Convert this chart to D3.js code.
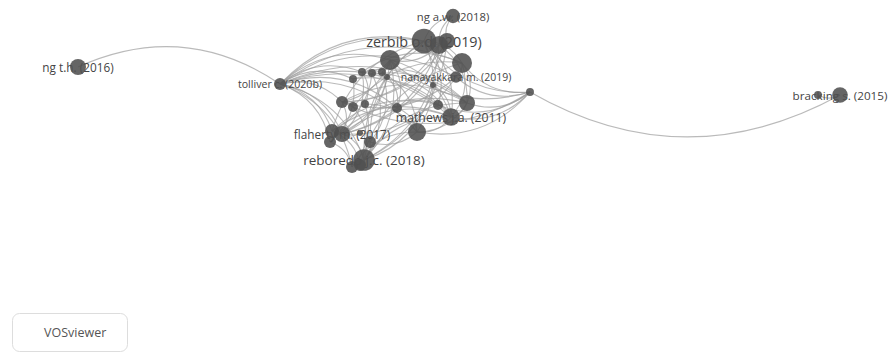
<!DOCTYPE html>
<html>
<head>
<meta charset="utf-8">
<script src="https://cdn.jsdelivr.net/npm/d3@7"></script>
<style>
  html, body { margin: 0; padding: 0; background: #fff; }
  svg { display: block; }
</style>
</head>
<body>
<svg id="net" width="889" height="353"></svg>
<script>
// Citation network of documents (layout coordinates, weights = citations)
const nodeLabels = [
  "ng t.h. (2016)", "tolliver c. (2020b)", "zerbib o.d. (2019)", "", "", "ng a.w. (2018)",
  "", "", "nanayakkara m. (2019)", "", "", "", "", "", "", "", "", "", "", "", "",
  "mathews j.a. (2011)", "", "flaherty m. (2017)", "", "", "", "", "reboredo j.c. (2018)",
  "", "", "", "bracking s. (2015)", ""
];
const nodeX = [
  -3.67, -1.65, -0.21, -0.06, 0.02, 0.08, -0.55, 0.17, 0.11, -0.83, -0.73, -0.63,
  -0.92, -0.58, -0.12, -1.03, -0.92, -0.80, -0.48, -0.07, 0.22, 0.06, -0.28, -1.03,
  -1.15, -1.13, -0.75, -0.85, -0.81, -0.93, -0.85, 0.85, 3.95, 3.73
];
const nodeY = [
  -0.23, -0.06, -0.49, -0.45, -0.49, -0.74, -0.30, -0.27, -0.13, -0.18, -0.17, -0.18,
  -0.11, -0.13, -0.05, 0.12, 0.17, 0.14, 0.18, 0.15, 0.13, 0.27, 0.42, 0.44,
  0.52, 0.41, 0.52, 0.43, 0.70, 0.77, 0.75, 0.02, 0.05, 0.05
];
const nodeWeight = [
  178, 100, 420, 225, 178, 144, 278, 278, 93, 44, 44, 44,
  44, 25, 25, 100, 69, 44, 69, 69, 178, 215, 225, 178,
  100, 136, 100, 25, 324, 100, 100, 44, 169, 44
];
// Citation links between documents (source, target index pairs)
const linkSource = [
  0, 32, 32,
  1, 1, 1, 1, 1, 1, 1, 1, 1, 1, 1, 1, 1, 1, 1, 1, 1, 1,
  31, 31, 31, 31, 31, 31, 31, 31, 31,
  2, 3, 4, 2, 3, 6, 6, 6, 6, 6, 6, 2, 7, 7, 2, 3, 3, 3, 2, 9, 10, 11, 12, 13, 14,
  15, 15, 16, 17, 18, 19, 20, 21, 22, 23, 24, 25, 26, 27, 8, 8, 8, 9, 10, 12, 15,
  16, 17, 23, 28, 29, 30, 24, 25, 26, 11, 13, 14, 9, 10, 4, 4, 3, 4, 2, 6,
  25, 25, 28, 28, 20, 7, 6, 18, 12, 9
];
const linkTarget = [
  1, 31, 33,
  6, 3, 2, 9, 12, 15, 23, 24, 22, 18, 21, 7, 28, 19, 8, 25, 29, 20,
  7, 21, 20, 2, 8, 6, 15, 19, 22,
  5, 5, 5, 6, 6, 9, 10, 11, 15, 23, 28, 7, 21, 20, 21, 15, 23, 28, 22, 23, 28, 26, 24, 18, 21,
  16, 23, 28, 29, 22, 21, 21, 22, 26, 28, 29, 30, 28, 23, 2, 15, 23, 20, 21, 21, 20,
  7, 22, 21, 21, 22, 7, 20, 19, 2, 22, 23, 28, 17, 25, 15, 23, 20, 28, 19, 21,
  2, 21, 2, 20, 22, 8, 18, 19, 20, 7
];

const svg = d3.select("#net");
const x = d3.scaleLinear().domain([-4.45, 4.44]).range([0, 889]);
const y = d3.scaleLinear().domain([-0.9, 2.63]).range([0, 353]);
const radius = d3.scaleSqrt().domain([0, 400]).range([0, 12]);
const labelSize = r => 7 + 0.6 * r;

const nodes = nodeLabels.map((label, i) => ({
  label, px: x(nodeX[i]), py: y(nodeY[i]), r: radius(nodeWeight[i])
}));

// Curved edges: quadratic curve bent to one side of the source→target direction
function edgePath(a, b) {
  const dx = b.px - a.px, dy = b.py - a.py;
  const k = 0.28;
  const cx = (a.px + b.px) / 2 + dy * k;
  const cy = (a.py + b.py) / 2 - dx * k;
  const p = d3.path();
  p.moveTo(a.px, a.py);
  p.quadraticCurveTo(cx, cy, b.px, b.py);
  return p.toString();
}

svg.append("g")
  .selectAll("path")
  .data(linkSource.map((s, i) => [nodes[s], nodes[linkTarget[i]]]))
  .join("path")
  .attr("d", d => edgePath(d[0], d[1]))
  .attr("fill", "none")
  .attr("stroke", "#9c9c9c")
  .attr("stroke-opacity", 0.7)
  .attr("stroke-width", 1.1);

// Labels sit beneath the circles, centred on their node
svg.append("g")
  .selectAll("text")
  .data(nodes.filter(d => d.label))
  .join("text")
  .attr("x", d => d.px)
  .attr("y", d => d.py)
  .attr("text-anchor", "middle")
  .attr("dominant-baseline", "central")
  .attr("font-family", "'Open Sans', sans-serif")
  .attr("font-size", d => labelSize(d.r))
  .attr("fill", "#444")
  .text(d => d.label);

svg.append("g")
  .selectAll("circle")
  .data(nodes)
  .join("circle")
  .attr("cx", d => d.px)
  .attr("cy", d => d.py)
  .attr("r", d => d.r)
  .attr("fill", "#505050")
  .attr("fill-opacity", 0.88);

// VOSviewer badge
const badge = svg.append("g");
badge.append("rect")
  .attr("x", 12.5).attr("y", 313.5).attr("width", 115).attr("height", 38)
  .attr("rx", 7).attr("fill", "#fff").attr("stroke", "#ddd");
badge.append("text")
  .attr("x", 44).attr("y", 337)
  .attr("font-family", "'Open Sans', sans-serif")
  .attr("font-size", 12.5)
  .attr("fill", "#555")
  .text("VOSviewer");
</script>
</body>
</html>
